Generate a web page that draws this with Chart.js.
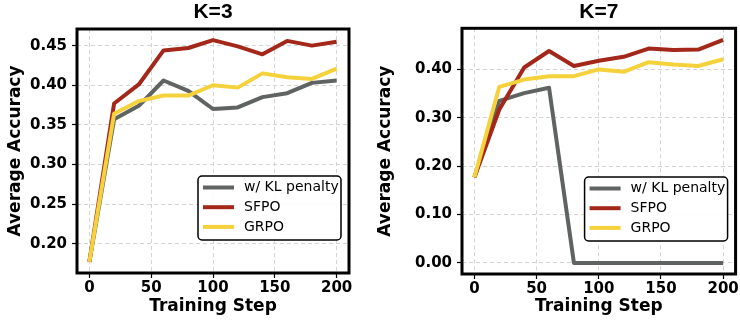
<!DOCTYPE html>
<html>
<head>
<meta charset="utf-8">
<script src="https://cdn.jsdelivr.net/npm/chart.js@4.4.0/dist/chart.umd.min.js"></script>
<style>
	body { margin: 0; background: #fff; }
	.panel { position: absolute; top: 0; width: 370px; height: 320px; }
</style>
</head>
<body>
<div class="panel" style="left: 0"><canvas id="k3" width="370" height="320"></canvas></div>
<div class="panel" style="left: 370px"><canvas id="k7" width="370" height="320"></canvas></div>
<script>
const steps = [0, 20, 40, 60, 80, 100, 120, 140, 160, 180, 200]
const seriesNames = ['w/ KL penalty', 'SFPO', 'GRPO']
const seriesColors = ['#5f6462', '#a3281a', '#f5d23c']

// K=3
const k3KL = [0.177, 0.357, 0.374, 0.406, 0.393, 0.370, 0.372, 0.385, 0.390, 0.403, 0.406]
const k3SFPO = [0.177, 0.377, 0.401, 0.444, 0.447, 0.457, 0.449, 0.439, 0.456, 0.450, 0.455]
const k3GRPO = [0.177, 0.364, 0.380, 0.387, 0.387, 0.400, 0.397, 0.415, 0.410, 0.408, 0.421]

// K=7
const k7KL = [0.177, 0.335, 0.351, 0.362, 0, 0, 0, 0, 0, 0, 0]
const k7SFPO = [0.177, 0.317, 0.404, 0.438, 0.407, 0.418, 0.426, 0.443, 0.440, 0.441, 0.461]
const k7GRPO = [0.177, 0.364, 0.379, 0.386, 0.386, 0.400, 0.395, 0.415, 0.410, 0.407, 0.421]

const xTicks = [0, 50, 100, 150, 200]
const k3YTicks = [0.20, 0.25, 0.30, 0.35, 0.40, 0.45]
const k7YTicks = [0.00, 0.10, 0.20, 0.30, 0.40]

Chart.defaults.font.family = '"DejaVu Sans", sans-serif'
Chart.defaults.color = '#000'

//thick black box round the plot area
const framePlugin = {
	id: 'frame',
	afterDatasetsDraw: chart => {
		const { ctx, chartArea: a } = chart
		ctx.save()
		ctx.lineWidth = 3
		ctx.strokeStyle = '#000'
		ctx.strokeRect(a.left, a.top, a.right - a.left, a.bottom - a.top)
		ctx.restore()
	},
}

//matplotlib style legend, lower right inside the axes
const boxLegend = {
	id: 'boxLegend',
	afterDraw: chart => {
		const { ctx, chartArea: a } = chart
		const w = 143
		const h = 64
		const x = a.right - 8 - w
		const y = a.bottom - 33 - h

		ctx.save()
		ctx.beginPath()
		ctx.roundRect(x, y, w, h, 4)
		ctx.fillStyle = 'rgba(255,255,255,0.9)'
		ctx.fill()
		ctx.lineWidth = 1.5
		ctx.strokeStyle = '#000'
		ctx.stroke()

		ctx.font = '14px "DejaVu Sans"'
		ctx.textBaseline = 'middle'
		chart.data.datasets.forEach((ds, i) => {
			const ry = y + 11.5 + i * 19.7
			ctx.beginPath()
			ctx.moveTo(x + 5, ry)
			ctx.lineTo(x + 36, ry)
			ctx.lineWidth = 4
			ctx.strokeStyle = ds.borderColor
			ctx.stroke()
			ctx.fillStyle = '#000'
			ctx.fillText(ds.label, x + 46, ry)
		})
		ctx.restore()
	},
}

const makeSet = (label, values, color, order) => {
	return {
		label: label,
		data: steps.map((s, i) => ({ x: s, y: values[i] })),
		borderColor: color,
		backgroundColor: color,
		borderWidth: 4,
		borderJoinStyle: 'round',
		pointRadius: 0,
		tension: 0,
		order: order,
	}
}

const buildChart = (id, title, series, yTicks, yMin, yMax, box) => {
	const ctx = document.querySelector(id).getContext('2d')

	return new Chart(ctx, {
		type: 'line',
		data: {
			datasets: series.map((values, i) =>
				makeSet(seriesNames[i], values, seriesColors[i], 3 - i)
			),
		},
		options: {
			responsive: false,
			animation: false,
			devicePixelRatio: 1,
			layout: { padding: { top: 0, right: box.right, bottom: 0, left: 0 } },
			plugins: {
				legend: { display: false },
				tooltip: { enabled: false },
				title: {
					display: true,
					text: title,
					fullSize: false,
					color: '#000',
					font: { family: 'Liberation Sans', size: 21, weight: 700, lineHeight: 1.1 },
					padding: { top: 1, bottom: box.titleGap },
				},
			},
			scales: {
				x: {
					type: 'linear',
					min: -10,
					max: 210,
					afterFit: s => {
						s.height = box.bottom
					},
					afterBuildTicks: s => {
						s.ticks = xTicks.map(v => ({ value: v }))
					},
					ticks: {
						font: { size: 15, weight: 'bold' },
						padding: 1,
						maxRotation: 0,
						callback: v => v,
					},
					grid: {
						color: '#d4d4d4',
						tickColor: '#000',
						tickLength: 5,
						tickWidth: 1.2,
					},
					border: { display: false, dash: [4, 3] },
					title: {
						display: true,
						text: 'Training Step',
						font: { size: 17, weight: 'bold' },
						padding: { top: 0, bottom: 3 },
					},
				},
				y: {
					min: yMin,
					max: yMax,
					afterFit: s => {
						s.width = box.left
					},
					afterBuildTicks: s => {
						s.ticks = yTicks.map(v => ({ value: v }))
					},
					ticks: {
						font: { size: 15, weight: 'bold' },
						padding: 5,
						callback: v => v.toFixed(2),
					},
					grid: {
						color: '#d4d4d4',
						tickColor: '#000',
						tickLength: 5,
						tickWidth: 1.2,
					},
					border: { display: false, dash: [4, 3] },
					title: {
						display: true,
						text: 'Average Accuracy',
						font: { size: 17, weight: 'bold' },
						padding: { top: 5, bottom: 0 },
					},
				},
			},
		},
		plugins: [framePlugin, boxLegend],
	})
}

buildChart('#k3', 'K=3', [k3KL, k3SFPO, k3GRPO], k3YTicks, 0.163, 0.471, {
	left: 77,
	right: 21,
	bottom: 47,
	titleGap: 4.9,
})
buildChart('#k7', 'K=7', [k7KL, k7SFPO, k7GRPO], k7YTicks, -0.023, 0.485, {
	left: 92,
	right: 3,
	bottom: 46,
	titleGap: 4.2,
})
</script>
</body>
</html>
